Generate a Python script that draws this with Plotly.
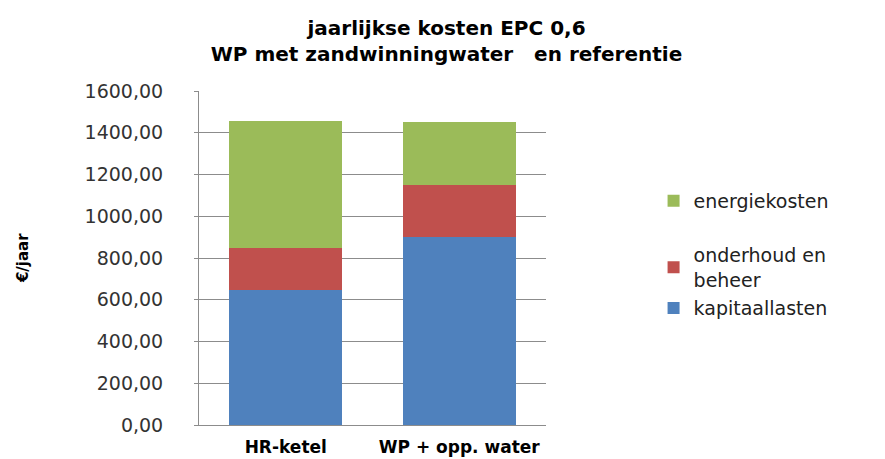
import plotly.graph_objects as go

categories = ["HR-ketel", "WP + opp. water"]
kapitaallasten = [646, 900]
onderhoud_beheer = [202, 250]
energiekosten = [610, 303]
y_ticks = [0, 200, 400, 600, 800, 1000, 1200, 1400, 1600]
y_ticktext = ["0,00", "200,00", "400,00", "600,00", "800,00", "1000,00", "1200,00", "1400,00", "1600,00"]

font_main = "DejaVu Sans"

fig = go.Figure()
fig.add_trace(go.Bar(name="kapitaallasten", x=categories, y=kapitaallasten,
                     marker_color="#4F81BD", marker_line_width=0, legend="legend3"))
fig.add_trace(go.Bar(name="onderhoud en<br>beheer", x=categories, y=onderhoud_beheer,
                     marker_color="#C0504D", marker_line_width=0, legend="legend2"))
fig.add_trace(go.Bar(name="energiekosten", x=categories, y=energiekosten,
                     marker_color="#9BBB59", marker_line_width=0, legend="legend"))

leg_common = dict(x=1.31, xanchor="left", yanchor="middle",
                  font=dict(family=font_main, size=19, color="#222222"),
                  bgcolor="rgba(0,0,0,0)", itemwidth=30)

fig.update_layout(
    barmode="stack",
    bargap=0.35,
    width=877, height=451,
    margin=dict(l=191, r=339, t=83, b=34, autoexpand=False),
    paper_bgcolor="white", plot_bgcolor="white",
    font=dict(family=font_main, size=16, color="black"),
    title=dict(
        text="<b>jaarlijkse kosten EPC 0,6<br>WP met zandwinningwater   en referentie</b>",
        x=0.5, xanchor="center", y=0.941, yanchor="top",
        font=dict(family=font_main, size=20, color="black"),
    ),
    legend=dict(y=0.671, **leg_common),
    legend2=dict(y=0.4716, **leg_common),
    legend3=dict(y=0.350, **leg_common),
    showlegend=True,
    annotations=[dict(
        text="<b>€/jaar</b>", textangle=-90, xref="paper", yref="paper",
        x=-0.507, y=0.5, xanchor="center", yanchor="middle", showarrow=False,
        font=dict(family=font_main, size=15, color="black"),
    )],
)
fig.update_yaxes(
    range=[0, 1600], tickvals=y_ticks, ticktext=y_ticktext,
    showgrid=True, gridcolor="#8C8C8C", gridwidth=1,
    showline=True, linecolor="#8C8C8C", linewidth=1,
    ticks="outside", ticklen=4, tickcolor="#8C8C8C",
    ticklabelstandoff=27, automargin=False,
    tickfont=dict(family=font_main, size=19, color="#333333"),
    zeroline=False,
)
fig.update_xaxes(
    showline=True, linecolor="#8C8C8C", linewidth=1, automargin=False,
    ticks="", tickfont=dict(family=font_main, size=17, color="black", weight="bold"),
    ticklabelstandoff=7,
)

fig.write_html("out.html")
